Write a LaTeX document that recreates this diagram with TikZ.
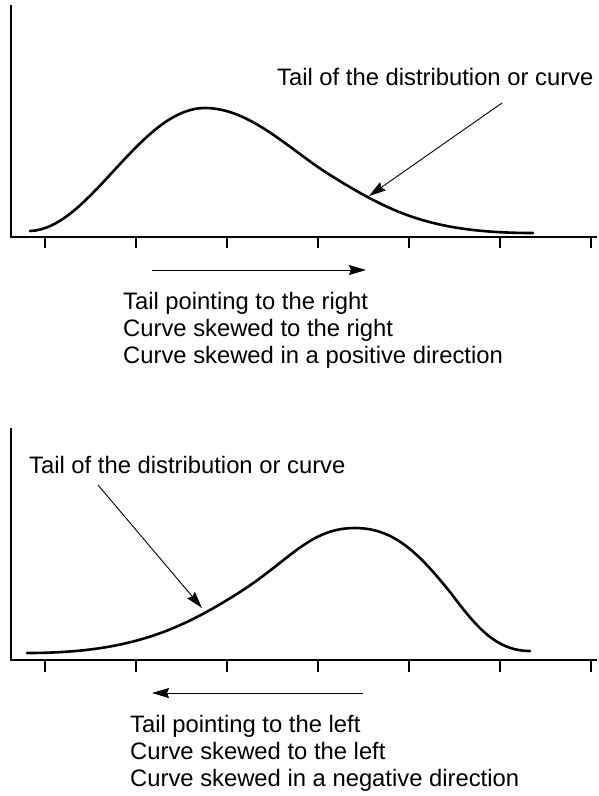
\documentclass[tikz,border=0pt]{standalone}
\usepackage{fontspec}
\setmainfont{Liberation Sans}
\usetikzlibrary{arrows.meta}

\begin{document}
\begin{tikzpicture}[x=1pt,y=-1pt,
    axis/.style={line width=1.4pt},
    density/.style={line width=2.6pt,line cap=round},
    pointer/.style={line width=0.9pt,-{Stealth[length=17pt,width=10pt,inset=2pt]}},
    caption/.style={anchor=base west,inner sep=0pt,font=\fontsize{23.8}{27}\selectfont}]
  \useasboundingbox (0,0) rectangle (599,796);

  % positive skew
  \begin{scope}
    \draw[axis] (11,5) -- (11,237) -- (597,237);
    \foreach \x in {45,136,227,318,409,500,591}
      \draw[axis] (\x,237) -- (\x,248);
    \draw[density] (30,231) .. controls (90,229) and (140,108) .. (205,108)
      .. controls (250,108) and (290,150) .. (330,175)
      .. controls (390,212) and (430,233) .. (533,233);
    \node[caption] (tailR) at (277,85) {Tail of the distribution or curve};
    \coordinate (tailRfrom) at (502,103);
    \coordinate (tailRto) at (369,196);
    \draw[pointer] (tailRfrom) -- (tailRto);
    \coordinate (dirRfrom) at (152,270);
    \coordinate (dirRto) at (366,270);
    \draw[pointer] (dirRfrom) -- (dirRto);
    \node[caption] (rOne) at (123,309) {Tail pointing to the right};
    \node[caption] (rTwo) at (123,336) {Curve skewed to the right};
    \node[caption] (rThree) at (123,363) {Curve skewed in a positive direction};
  \end{scope}

  % negative skew
  \begin{scope}
    \draw[axis] (11,428) -- (11,660) -- (597,660);
    \foreach \x in {45,136,227,318,409,500,591}
      \draw[axis] (\x,660) -- (\x,672);
    \draw[density] (27,653) .. controls (130,653) and (180,630) .. (240,592)
      .. controls (290,560) and (310,528) .. (355,528)
      .. controls (395,528) and (420,555) .. (450,592)
      .. controls (475,625) and (495,651) .. (530,651);
    \node[caption] (tailL) at (29,473) {Tail of the distribution or curve};
    \coordinate (tailLfrom) at (98,485);
    \coordinate (tailLto) at (202,608);
    \draw[pointer] (tailLfrom) -- (tailLto);
    \coordinate (dirLfrom) at (363,693);
    \coordinate (dirLto) at (152,693);
    \draw[pointer] (dirLfrom) -- (dirLto);
    \node[caption] (lOne) at (130,732) {Tail pointing to the left};
    \node[caption] (lTwo) at (130,759) {Curve skewed to the left};
    \node[caption] (lThree) at (130,786) {Curve skewed in a negative direction};
  \end{scope}
\end{tikzpicture}
\end{document}
